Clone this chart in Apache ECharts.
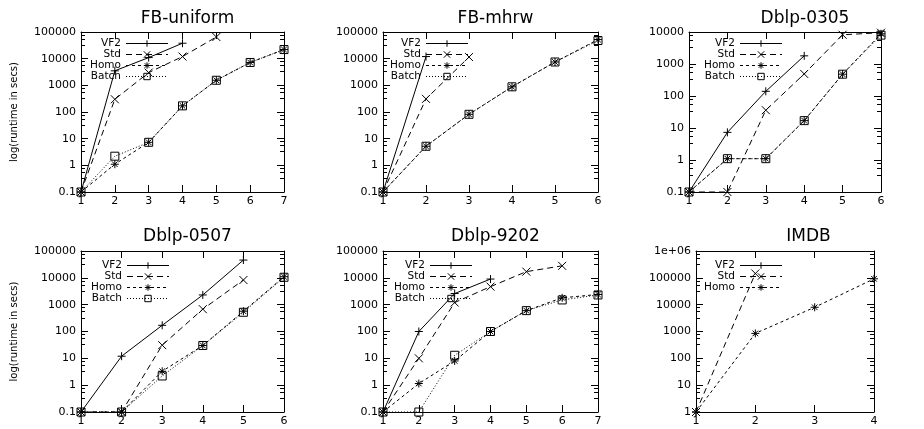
<!DOCTYPE html>
<html lang="en">
<head>
    <meta charset="UTF-8">
    <title>Runtime comparison</title>
    <script src="https://cdn.jsdelivr.net/npm/echarts@6/dist/echarts.min.js"></script>
    <style>
        html, body { margin: 0; padding: 0; background: #fff; }
        #main { width: 924px; height: 429px; }
    </style>
</head>
<body>
    <div id="main"></div>
    <script>
        // panel titles and series names
        const titles = ['FB-uniform', 'FB-mhrw', 'Dblp-0305', 'Dblp-0507', 'Dblp-9202', 'IMDB'];
        const seriesNames = ['VF2', 'Std', 'Homo', 'Batch'];

        // FB-uniform (x = 1..7)
        const fbUniformVF2 = [0.1, 3500, 11000, 38000];
        const fbUniformStd = [0.1, 300, 3000, 12000, 65000];
        const fbUniformHomo = [0.1, 1.1, 7.3, 170, 1550, 7200, 22000];
        const fbUniformBatch = [0.1, 2.2, 7.3, 170, 1550, 7200, 22000];

        // FB-mhrw (x = 1..6)
        const fbMhrwVF2 = [0.1, 12000];
        const fbMhrwStd = [0.1, 310, 11500];
        const fbMhrwHomo = [0.1, 5.2, 82, 880, 7500, 52000];
        const fbMhrwBatch = [0.1, 5.2, 82, 880, 7500, 48000];

        // Dblp-0305 (x = 1..6)
        const dblp0305VF2 = [0.1, 7.3, 140, 1800];
        const dblp0305Std = [0.1, 0.1, 36, 490, 8200, 9500];
        const dblp0305Homo = [0.1, 1.1, 1.1, 17, 480, 8800];
        const dblp0305Batch = [0.1, 1.1, 1.1, 17, 480, 8000];

        // Dblp-0507 (x = 1..6)
        const dblp0507VF2 = [0.1, 12, 170, 2300, 46000];
        const dblp0507Std = [0.1, 0.1, 31, 680, 8300];
        const dblp0507Homo = [0.1, 0.1, 3.3, 30, 570, 11000];
        const dblp0507Batch = [0.1, 0.1, 2.2, 30, 520, 10500];

        // Dblp-9202 (x = 1..7)
        const dblp9202VF2 = [0.1, 100, 2600, 9000];
        const dblp9202Std = [0.1, 10, 1200, 4700, 17000, 28000];
        const dblp9202Homo = [0.1, 1.15, 8, 100, 600, 1800, 2400];
        const dblp9202Batch = [0.1, 0.1, 13, 100, 600, 1500, 2300];

        // IMDB (x = 1..4)
        const imdbVF2 = [1];
        const imdbStd = [1, 145000];
        const imdbHomo = [1, 850, 8000, 92000];

        const panelSeries = [
            [fbUniformVF2, fbUniformStd, fbUniformHomo, fbUniformBatch],
            [fbMhrwVF2, fbMhrwStd, fbMhrwHomo, fbMhrwBatch],
            [dblp0305VF2, dblp0305Std, dblp0305Homo, dblp0305Batch],
            [dblp0507VF2, dblp0507Std, dblp0507Homo, dblp0507Batch],
            [dblp9202VF2, dblp9202Std, dblp9202Homo, dblp9202Batch],
            [imdbVF2, imdbStd, imdbHomo]
        ];
        const xMaxes = [7, 6, 6, 6, 7, 4];
        const yMins = [0.1, 0.1, 0.1, 0.1, 0.1, 1];
        const yMaxes = [100000, 100000, 10000, 100000, 100000, 1000000];

        // layout
        const grids = [
            { left: 81, top: 32, width: 203, height: 160 },
            { left: 383, top: 32, width: 215, height: 160 },
            { left: 689, top: 32, width: 222, height: 160 },
            { left: 81, top: 251, width: 203, height: 161 },
            { left: 383, top: 251, width: 215, height: 161 },
            { left: 696, top: 251, width: 215, height: 161 }
        ];
        const legendPos = [
            { left: 89, top: 38 }, { left: 389, top: 38 }, { left: 703, top: 38 },
            { left: 90, top: 260 }, { left: 393, top: 260 }, { left: 703, top: 260 }
        ];

        // gnuplot-like point types and dash patterns
        const styles = {
            VF2: { symbol: 'path://M5,0L5,10M0,5L10,5', dash: 'solid', fill: '#000' },
            Std: { symbol: 'path://M0,0L10,10M10,0L0,10', dash: [6, 4], fill: '#000' },
            Homo: { symbol: 'path://M5,0L5,10M0,5L10,5M1.5,1.5L8.5,8.5M8.5,1.5L1.5,8.5', dash: [3, 3], fill: '#000' },
            Batch: { symbol: 'path://M0,0L10,0L10,10L0,10Z', dash: [1, 2], fill: 'rgba(0,0,0,0)' }
        };

        const font = 'DejaVu Sans';
        const logLabel = function (v) {
            if (v >= 999999) return '1e+06';
            return String(+v.toPrecision(6));
        };

        const title = [], grid = [], xAxis = [], yAxis = [], legend = [], series = [];

        grids.forEach(function (g, i) {
            grid.push({ left: g.left, top: g.top, width: g.width, height: g.height });
            title.push({
                text: titles[i],
                left: g.left + g.width / 2,
                top: i < 3 ? 5 : 223,
                textAlign: 'center',
                textStyle: { fontFamily: font, fontSize: 17, fontWeight: 'normal', color: '#000' }
            });

            // bottom axis + mirrored top axis (labels kept but made transparent)
            ['bottom', 'top'].forEach(function (pos) {
                xAxis.push({
                    type: 'value', gridIndex: i, position: pos,
                    min: 1, max: xMaxes[i], interval: 1,
                    splitLine: { show: false },
                    axisLine: { show: true, onZero: false, lineStyle: { color: '#000', width: 1 } },
                    axisTick: { show: true, inside: true, length: 7, lineStyle: { color: '#000', width: 1 } },
                    axisLabel: {
                        color: pos === 'bottom' ? '#000' : 'rgba(0,0,0,0)',
                        fontFamily: font, fontSize: 11, margin: 4
                    }
                });
            });

            // left log axis + mirrored right axis
            ['left', 'right'].forEach(function (pos) {
                const ax = {
                    type: 'log', gridIndex: i, position: pos,
                    min: yMins[i], max: yMaxes[i], splitNumber: 6,
                    splitLine: { show: false },
                    axisLine: { show: true, onZero: false, lineStyle: { color: '#000', width: 1 } },
                    axisTick: { show: true, inside: true, length: 7, lineStyle: { color: '#000', width: 1 } },
                    minorTick: { show: true, splitNumber: 4, length: 4, lineStyle: { color: '#000', width: 1 } },
                    axisLabel: {
                        color: pos === 'left' ? '#000' : 'rgba(0,0,0,0)',
                        fontFamily: font, fontSize: 11, margin: 5, formatter: logLabel
                    }
                };
                if (pos === 'left' && (i === 0 || i === 3)) {
                    ax.name = 'log(runtime in secs)';
                    ax.nameLocation = 'middle';
                    ax.nameGap = 62;
                    ax.nameTextStyle = { fontFamily: font, fontSize: 10, color: '#000' };
                }
                yAxis.push(ax);
            });

            const names = seriesNames.slice(0, panelSeries[i].length);
            legend.push({
                data: names,
                orient: 'vertical',
                left: legendPos[i].left,
                top: legendPos[i].top,
                align: 'right',
                itemWidth: 42,
                itemHeight: 8,
                itemGap: 0,
                padding: 0,
                selectedMode: false,
                itemStyle: { borderWidth: 1 },
                lineStyle: { width: 1 },
                formatter: '{a|{name}}',
                textStyle: {
                    rich: { a: { width: 32, align: 'right', fontFamily: font, fontSize: 10.5, color: '#000', lineHeight: 12 } }
                }
            });

            panelSeries[i].forEach(function (vals, k) {
                const name = seriesNames[k];
                const st = styles[name];
                series.push({
                    name: name,
                    type: 'line',
                    xAxisIndex: 2 * i,
                    yAxisIndex: 2 * i,
                    data: vals.map(function (v, j) { return [j + 1, v]; }),
                    symbol: st.symbol,
                    symbolSize: 8,
                    showAllSymbol: true,
                    lineStyle: { color: '#000', width: 1, type: st.dash },
                    itemStyle: { color: st.fill, borderColor: '#000', borderWidth: 1 },
                    emphasis: { disabled: true }
                });
            });
        });

        const chart = echarts.init(document.getElementById('main'));
        chart.setOption({
            animation: false,
            backgroundColor: '#fff',
            title: title,
            grid: grid,
            xAxis: xAxis,
            yAxis: yAxis,
            legend: legend,
            series: series
        });
    </script>
</body>
</html>
